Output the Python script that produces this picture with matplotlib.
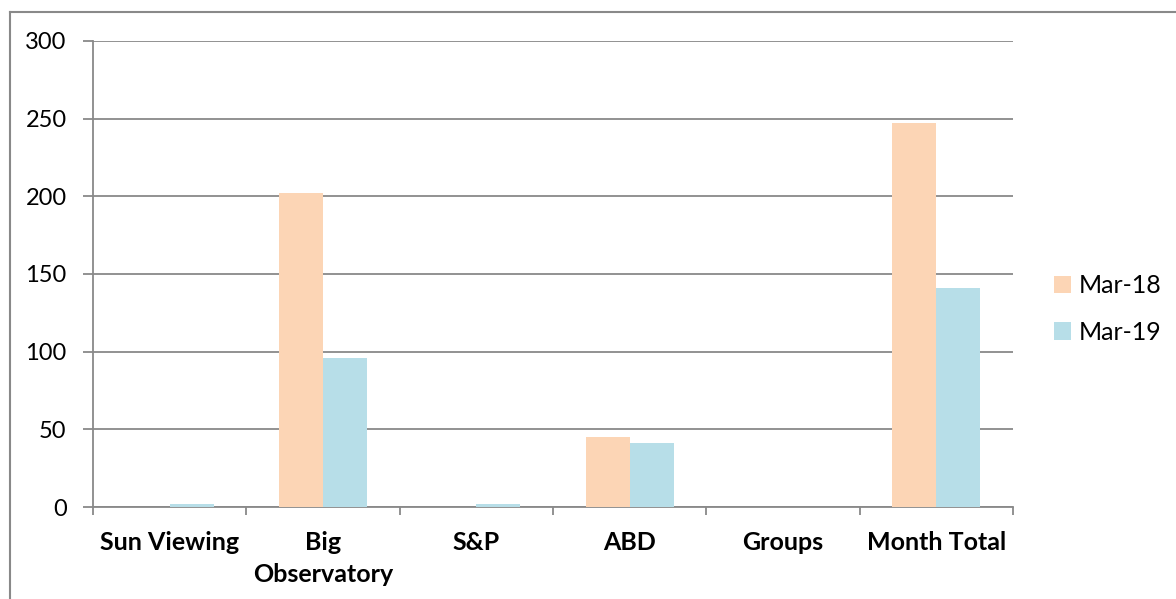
import matplotlib
matplotlib.use("Agg")
import matplotlib.pyplot as plt
from matplotlib.lines import Line2D
import numpy as np

categories = ["Sun Viewing", "Big\nObservatory", "S&P", "ABD", "Groups", "Month Total"]
series_names = ["Mar-18", "Mar-19"]
mar18 = [0, 202, 0, 45, 0, 247]
mar19 = [2, 96, 2, 41, 0, 141]
colors = ["#FCD5B5", "#B7DEE8"]
yticks = [0, 50, 100, 150, 200, 250, 300]

plt.rcParams['font.family'] = ['Lato', 'DejaVu Sans']

W, H = 1176, 599
fig = plt.figure(figsize=(W / 100, H / 100), dpi=100)
ax = fig.add_axes([93 / W, 1 - 507 / H, (1013 - 93) / W, (507 - 41) / H])

x = np.arange(len(categories))
bw = 0.287
b1 = ax.bar(x - bw / 2, mar18, bw, color=colors[0], label=series_names[0], zorder=3)
b2 = ax.bar(x + bw / 2, mar19, bw, color=colors[1], label=series_names[1], zorder=3)

ax.set_xlim(-0.5, len(categories) - 0.5)
ax.set_ylim(0, 300)
ax.set_yticks(yticks)
ax.set_yticklabels([str(v) for v in yticks], fontsize=17)
ax.yaxis.grid(True, color="#898989", linewidth=1.3, zorder=0)
ax.set_axisbelow(True)

ax.set_xticks(x)
ax.set_xticklabels(categories, fontsize=18, fontweight='bold', linespacing=1.5)
ax.set_xticks(np.arange(len(categories) + 1) - 0.5, minor=True)
ax.tick_params(axis='x', which='major', length=0, pad=17)
ax.tick_params(axis='x', which='minor', length=6, width=1.3, color="#898989", direction='out')
ax.tick_params(axis='y', which='major', length=7, width=1.3, color="#898989", pad=12)

for s in ['top', 'right']:
    ax.spines[s].set_visible(False)
for s in ['left', 'bottom']:
    ax.spines[s].set_color("#898989")
    ax.spines[s].set_linewidth(1.3)

leg = fig.legend(handles=[b1, b2], labels=series_names, loc='center left',
                 bbox_to_anchor=(1031 / W, 1 - 309 / H), frameon=False,
                 fontsize=18, handlelength=0.7, handleheight=0.7,
                 handletextpad=0.3, labelspacing=0.95)

# outer chart border
fig.add_artist(Line2D([10 / W, 10 / W], [0, 1 - 12 / H], transform=fig.transFigure,
                      color="#898989", linewidth=1.5))
fig.add_artist(Line2D([10 / W, 1], [1 - 12 / H, 1 - 12 / H], transform=fig.transFigure,
                      color="#898989", linewidth=1.5))

fig.savefig("out.png", dpi=100)
